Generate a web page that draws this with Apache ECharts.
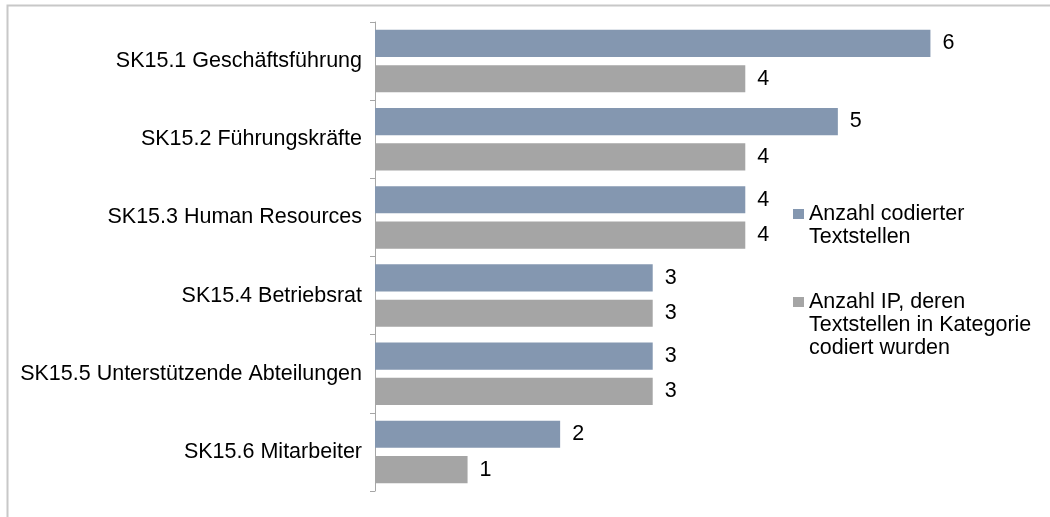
<!DOCTYPE html>
<html>
<head>
<meta charset="utf-8">
<script src="https://cdn.jsdelivr.net/npm/echarts@6/dist/echarts.min.js"></script>
<style>html,body{margin:0;padding:0;background:#fff}#c{width:1050px;height:517px}</style>
</head>
<body>
<div id="c"></div>
<script>
const categories = ['SK15.1 Geschäftsführung','SK15.2 Führungskräfte','SK15.3 Human Resources','SK15.4 Betriebsrat','SK15.5 Unterstützende Abteilungen','SK15.6 Mitarbeiter'];
const seriesNames = ['Anzahl codierter\nTextstellen','Anzahl IP, deren\nTextstellen in Kategorie\ncodiert wurden'];
const codierteTextstellen = [6,5,4,3,3,2];
const anzahlIP = [4,4,4,3,3,1];
const colors = ['#8497B0','#A5A5A5'];
const FONT = '"Liberation Sans", Arial, sans-serif';
const FS = 21.5;

const chart = echarts.init(document.getElementById('c'));
const label = {show:true, position:'right', distance:12, color:'#000', fontSize:FS, fontFamily:FONT};
chart.setOption({
  animation:false,
  grid:{left:375, top:22, bottom:26, right:27, containLabel:false},
  xAxis:{type:'value', min:0, max:7, show:false},
  yAxis:{type:'category', data:categories, inverse:true,
    axisLine:{lineStyle:{color:'#A6A6A6', width:1}},
    axisTick:{show:true, length:5, lineStyle:{color:'#A6A6A6'}},
    axisLabel:{color:'#000', fontSize:FS, fontFamily:FONT, margin:13}
  },
  series:[
    {type:'bar', name:seriesNames[0], data:codierteTextstellen, itemStyle:{color:colors[0]}, barGap:'30%', barCategoryGap:'20%', label:label},
    {type:'bar', name:seriesNames[1], data:anzahlIP, itemStyle:{color:colors[1]}, label:label}
  ],
  graphic:[
    {type:'rect', shape:{x:7.5, y:5.5, width:1100, height:600}, style:{fill:'none', stroke:'#C8C8C8', lineWidth:2}, silent:true},
    {type:'rect', shape:{x:793, y:209, width:11, height:10}, style:{fill:colors[0]}},
    {type:'text', x:809, y:202.5, style:{text:seriesNames[0], fill:'#000', fontSize:FS, fontFamily:FONT, lineHeight:23, verticalAlign:'top'}},
    {type:'rect', shape:{x:793, y:297, width:11, height:10}, style:{fill:colors[1]}},
    {type:'text', x:809, y:290.5, style:{text:seriesNames[1], fill:'#000', fontSize:FS, fontFamily:FONT, lineHeight:23, verticalAlign:'top'}}
  ]
});
</script>
</body>
</html>
